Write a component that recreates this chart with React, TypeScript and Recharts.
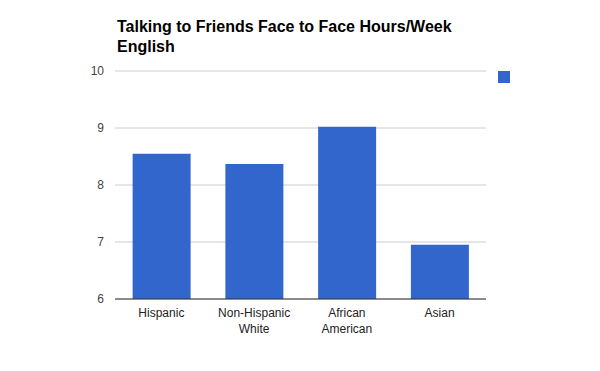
import React from 'react';
import { BarChart, Bar, XAxis, YAxis, CartesianGrid, Legend } from 'recharts';

const categories = ['Hispanic', 'Non-Hispanic White', 'African American', 'Asian'];
const hours = [8.55, 8.37, 9.02, 6.95];
const yTicks = [6, 7, 8, 9, 10];
const titleLines = ['Talking to Friends Face to Face Hours/Week', 'English'];

const data = categories.map((c, i) => ({ name: c, value: hours[i] }));

const FONT = '"Liberation Sans", Arial, sans-serif';

const XTick = (props: any) => {
  const { x, y, payload } = props;
  const words = String(payload.value).split(' ');
  return (
    <text x={x} y={y} textAnchor="middle" fill="#222" fontSize={12} fontFamily={FONT}>
      {words.map((w, i) => (
        <tspan key={i} x={x} dy={i === 0 ? 18 : 16}>{w}</tspan>
      ))}
    </text>
  );
};

const LegendContent = () => (
  <div style={{ width: 12, height: 12, background: '#3366cc' }} />
);

export default function App() {
  return (
    <div style={{ position: 'absolute', left: 0, top: 0, width: 600, height: 371, background: '#fff', fontFamily: FONT }}>
      <div style={{ position: 'absolute', left: 117, top: 17, fontSize: 16, fontWeight: 'bold', lineHeight: '20px', color: '#000', zIndex: 2 }}>
        {titleLines.map((t, i) => (<div key={i}>{t}</div>))}
      </div>
      <BarChart
        width={600}
        height={371}
        data={data}
        margin={{ top: 71, right: 114, bottom: 32, left: 75 }}
        barCategoryGap="19%"
      >
        <CartesianGrid vertical={false} stroke="#cccccc" strokeDasharray="" />
        <XAxis
          dataKey="name"
          tickLine={false}
          tickSize={0}
          tickMargin={0}
          axisLine={{ stroke: '#333333' }}
          tick={<XTick />}
          interval={0}
          height={40}
        />
        <YAxis
          domain={[6, 10]}
          ticks={yTicks}
          width={40}
          axisLine={false}
          tickLine={false}
          tickSize={0}
          tickMargin={11}
          tick={{ fill: '#444', fontSize: 12, fontFamily: FONT }}
          allowDataOverflow
        />
        <Legend
          layout="vertical"
          align="right"
          verticalAlign="top"
          content={<LegendContent />}
          wrapperStyle={{ position: 'absolute', left: 498, top: 71, width: 0, height: 0, overflow: 'visible' }}
        />
        <Bar dataKey="value" fill="#3366cc" isAnimationActive={false} />
      </BarChart>
    </div>
  );
}
